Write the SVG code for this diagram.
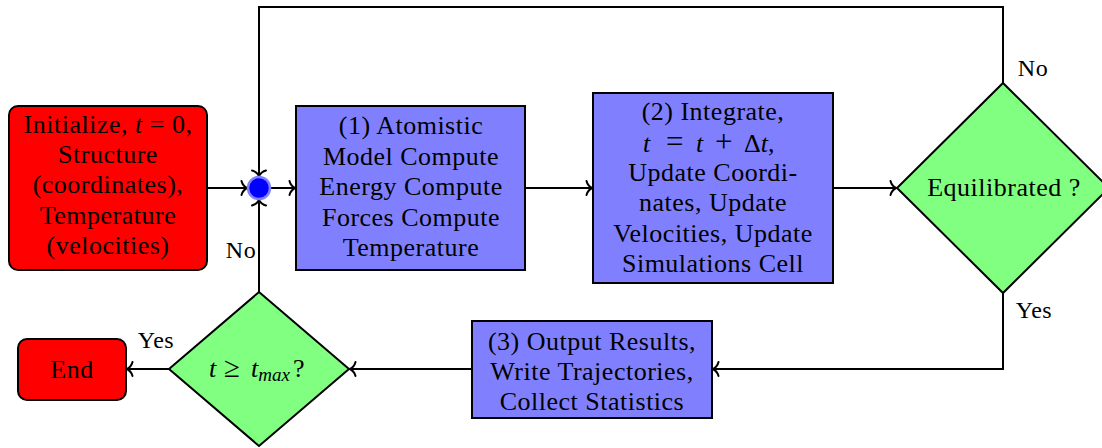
<svg xmlns="http://www.w3.org/2000/svg" width="1102" height="448" viewBox="0 0 1102 448">
<defs>
<style>
text{font-family:'Liberation Serif','Times New Roman',serif}
.t{font-size:26px;letter-spacing:0.5px;fill:#000;text-anchor:middle}
.l{font-size:24px;letter-spacing:0.5px;fill:#000;text-anchor:middle}
.s{text-anchor:start;letter-spacing:0}
.m{font-style:italic}
.op{font-size:31px}
.red{fill:#ff0000;stroke:#000;stroke-width:2}
.blue{fill:#8080ff;stroke:#000;stroke-width:2}
.green{fill:#80ff80;stroke:#000;stroke-width:2}
.c{fill:none;stroke:#000;stroke-width:2}
</style>
<marker id="arr" viewBox="-8 -9 10 18" refX="0" refY="0" markerWidth="10" markerHeight="18" markerUnits="userSpaceOnUse" orient="auto">
<path d="M-5.5,-7 C-4.5,-3 -1.5,-0.8 0,0 C-1.5,0.8 -4.5,3 -5.5,7" fill="none" stroke="#000" stroke-width="2" stroke-linecap="round"/>
</marker>
</defs>
<rect width="1102" height="448" fill="#fff"/>
<g id="connectors">
<path class="c" d="M207,188 H247" marker-end="url(#arr)"/>
<path class="c" d="M271,188 H295" marker-end="url(#arr)"/>
<path class="c" d="M1003,83 V7 H259 V176" marker-end="url(#arr)"/>
<path class="c" d="M259,292 V200" marker-end="url(#arr)"/>
<path class="c" d="M525,188 H592" marker-end="url(#arr)"/>
<path class="c" d="M833,188 H896" marker-end="url(#arr)"/>
<path class="c" d="M1003,293 V369 H713" marker-end="url(#arr)"/>
<path class="c" d="M472,369 H350" marker-end="url(#arr)"/>
<path class="c" d="M169,369 H127" marker-end="url(#arr)"/>
<text class="l" x="1033" y="76">No</text>
<text class="l" x="1034" y="318">Yes</text>
<text class="l" x="156" y="348">Yes</text>
<text class="l" x="241" y="258">No</text>
</g>
<g id="init">
<rect class="red" x="9" y="106" width="198" height="164" rx="9"/>
<text class="t" x="108" y="133">Initialize, <tspan class="m">t</tspan> = 0,</text>
<text class="t" x="108" y="163">Structure</text>
<text class="t" x="108" y="193">(coordinates),</text>
<text class="t" x="108" y="224">Temperature</text>
<text class="t" x="108" y="254">(velocities)</text>
</g>
<g id="junction">
<circle cx="259" cy="188" r="11" fill="#0000ff" stroke="#8080ff" stroke-width="2.5"/>
</g>
<g id="step1">
<rect class="blue" x="296" y="106" width="229" height="164"/>
<text class="t" x="411" y="134">(1) Atomistic</text>
<text class="t" x="411" y="165">Model Compute</text>
<text class="t" x="411" y="195">Energy Compute</text>
<text class="t" x="411" y="226">Forces Compute</text>
<text class="t" x="411" y="256">Temperature</text>
</g>
<g id="step2">
<rect class="blue" x="593" y="93" width="240" height="190"/>
<text class="t" x="713" y="120">(2) Integrate,</text>
<text class="t s" x="643" y="152"><tspan class="m">t</tspan><tspan x="666" class="op">=</tspan><tspan x="696" class="m">t</tspan><tspan x="715" class="op">+</tspan><tspan x="744">Δ</tspan><tspan class="m">t</tspan>,</text>
<text class="t" x="713" y="181">Update Coordi-</text>
<text class="t" x="713" y="211">nates, Update</text>
<text class="t" x="713" y="242">Velocities, Update</text>
<text class="t" x="713" y="272">Simulations Cell</text>
</g>
<g id="equil">
<polygon class="green" points="1003,83 1109,188 1003,293 897,188"/>
<text class="t" x="1004" y="196">Equilibrated ?</text>
</g>
<g id="step3">
<rect class="blue" x="472" y="321" width="240" height="97"/>
<text class="t" x="592" y="350">(3) Output Results,</text>
<text class="t" x="592" y="380">Write Trajectories,</text>
<text class="t" x="592" y="410">Collect Statistics</text>
</g>
<g id="tmax">
<polygon class="green" points="259,292 349,369 259,446 169,369"/>
<text class="t s" x="209" y="377"><tspan class="m">t</tspan><tspan x="224" font-size="29">≥</tspan><tspan x="251" class="m">t</tspan><tspan class="m" font-size="19" dy="4">max</tspan><tspan x="293" dy="-4">?</tspan></text>
</g>
<g id="end">
<rect class="red" x="18" y="339" width="108" height="61" rx="9"/>
<text class="t" x="72" y="378">End</text>
</g>
</svg>
